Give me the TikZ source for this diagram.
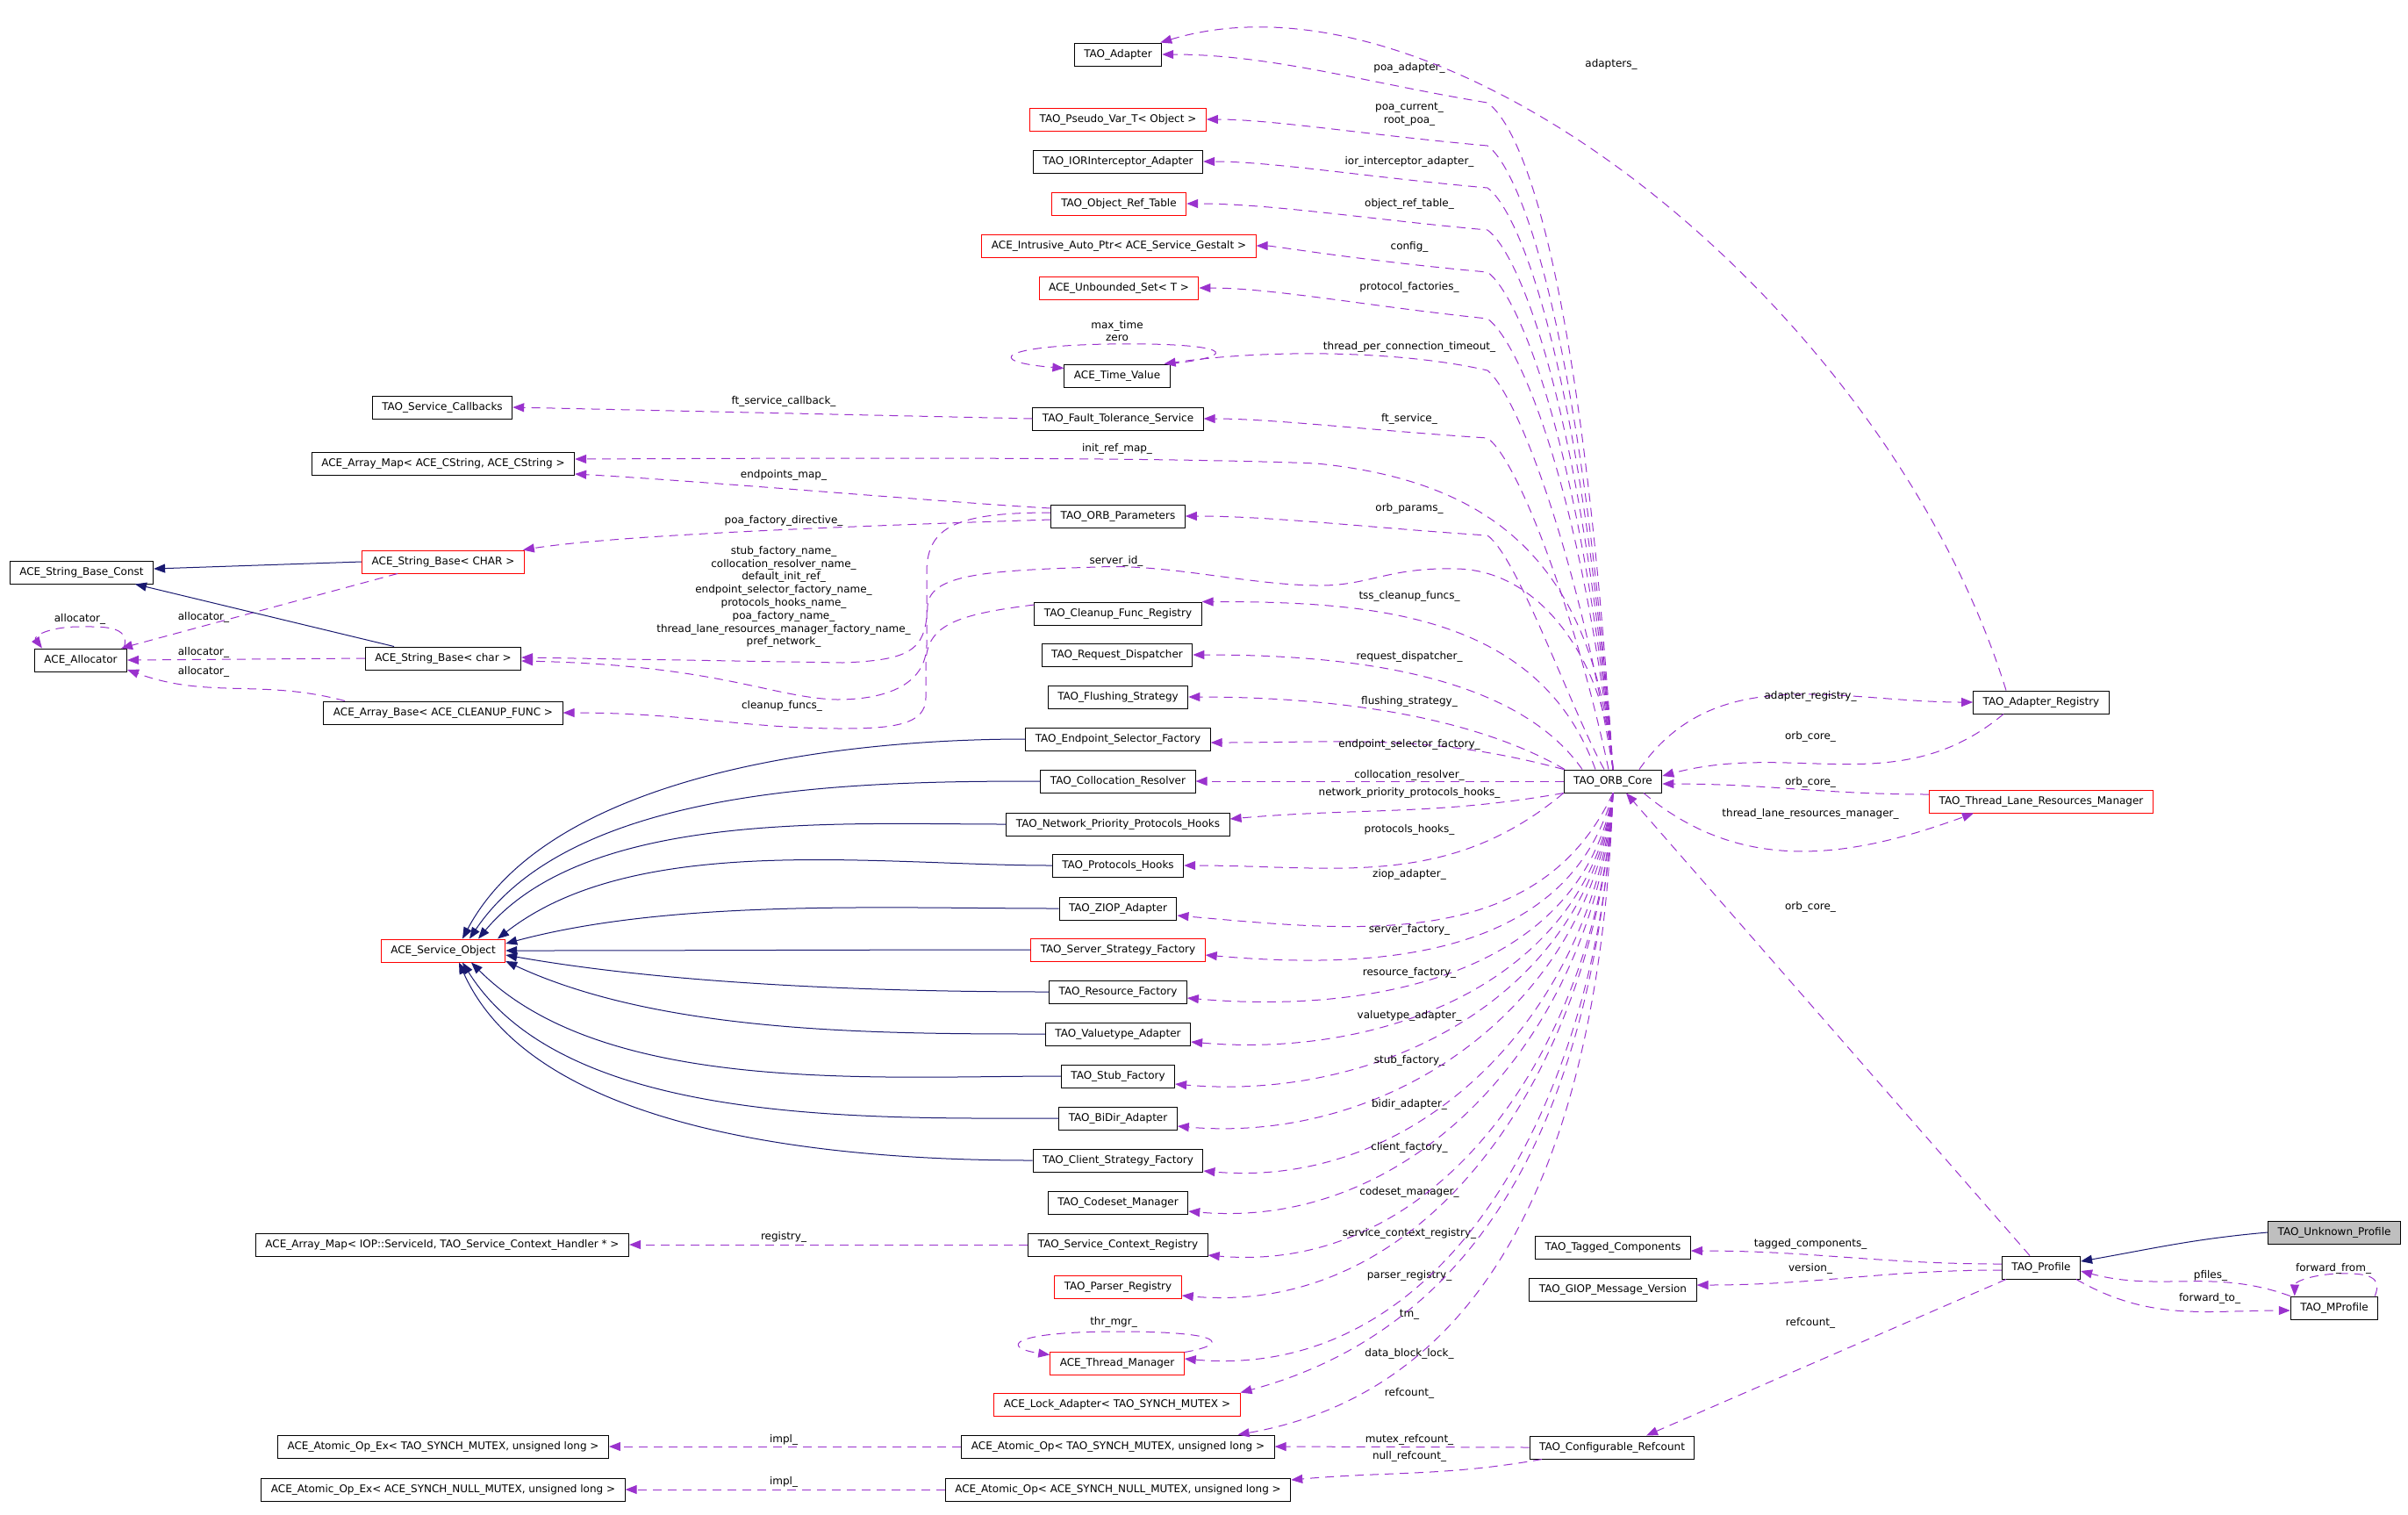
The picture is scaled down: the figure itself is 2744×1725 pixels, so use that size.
\documentclass[tikz,border=0pt]{standalone}
\usepackage{fontspec}
\setmainfont{DejaVu Sans}
\usetikzlibrary{arrows.meta}

\definecolor{usecol}{HTML}{9A32CD}
\definecolor{isacol}{HTML}{191970}
\definecolor{focuscol}{HTML}{BFBFBF}

\tikzset{
  cls/.style={draw=black, line width=1pt, fill=white, inner xsep=11pt, inner ysep=0pt,
    minimum height=26pt, font=\fontsize{12}{14}\selectfont},
  tmpl/.style={cls, draw=red},
  focus/.style={cls, fill=focuscol},
  use/.style={draw=usecol, line width=1pt, dash pattern=on 10pt off 7pt,
    -{Triangle[length=13pt,width=10pt]}},
  isa/.style={draw=isacol, line width=1pt, -{Triangle[length=13pt,width=10pt]}},
  lbl/.style={font=\fontsize{12}{14.8}\selectfont, align=center, inner sep=0pt},
}

\begin{document}
\begin{tikzpicture}[x=1pt,y=1pt]
\useasboundingbox (0,0) rectangle (2744,-1725);

% member classes
\node[cls] (adapter) at (1274,-62) {TAO\_Adapter};
\node[tmpl] (pseudovar) at (1274,-136) {TAO\_Pseudo\_Var\_T< Object >};
\node[cls] (iorinterceptor) at (1274,-184) {TAO\_IORInterceptor\_Adapter};
\node[tmpl] (objreftable) at (1275,-232) {TAO\_Object\_Ref\_Table};
\node[tmpl] (gestaltptr) at (1275,-280) {ACE\_Intrusive\_Auto\_Ptr< ACE\_Service\_Gestalt >};
\node[tmpl] (unboundedset) at (1275,-328) {ACE\_Unbounded\_Set< T >};
\node[cls] (timevalue) at (1273,-428) {ACE\_Time\_Value};
\node[cls] (ftservice) at (1274,-477) {TAO\_Fault\_Tolerance\_Service};
\node[cls] (svccallbacks) at (504,-464) {TAO\_Service\_Callbacks};
\node[cls] (cstringmap) at (505,-528) {ACE\_Array\_Map< ACE\_CString, ACE\_CString >};
\node[cls] (orbparams) at (1274,-588) {TAO\_ORB\_Parameters};
\node[cls] (strbaseconst) at (93,-652) {ACE\_String\_Base\_Const};
\node[tmpl] (strbaseCHAR) at (505,-640) {ACE\_String\_Base< CHAR >};
\node[cls] (allocator) at (92,-752) {ACE\_Allocator};
\node[cls] (strbasechar) at (505,-750) {ACE\_String\_Base< char >};
\node[cls] (cleanuparray) at (505,-812) {ACE\_Array\_Base< ACE\_CLEANUP\_FUNC >};
\node[cls] (cleanupreg) at (1274,-699) {TAO\_Cleanup\_Func\_Registry};
\node[cls] (reqdispatcher) at (1273,-746) {TAO\_Request\_Dispatcher};
\node[cls] (flushing) at (1274,-794) {TAO\_Flushing\_Strategy};
\node[cls] (endpointsel) at (1274,-842) {TAO\_Endpoint\_Selector\_Factory};
\node[cls] (collocation) at (1274,-890) {TAO\_Collocation\_Resolver};
\node[cls] (netprio) at (1274,-939) {TAO\_Network\_Priority\_Protocols\_Hooks};
\node[cls] (protohooks) at (1274,-986) {TAO\_Protocols\_Hooks};
\node[cls] (ziop) at (1274,-1035) {TAO\_ZIOP\_Adapter};
\node[tmpl] (serverstrat) at (1274,-1082) {TAO\_Server\_Strategy\_Factory};
\node[tmpl] (serviceobj) at (505,-1083) {ACE\_Service\_Object};
\node[cls] (resourcefact) at (1274,-1130) {TAO\_Resource\_Factory};
\node[cls] (valuetype) at (1274,-1178) {TAO\_Valuetype\_Adapter};
\node[cls] (stubfact) at (1274,-1226) {TAO\_Stub\_Factory};
\node[cls] (bidir) at (1274,-1274) {TAO\_BiDir\_Adapter};
\node[cls] (clientstrat) at (1274,-1322) {TAO\_Client\_Strategy\_Factory};
\node[cls] (codeset) at (1274,-1370) {TAO\_Codeset\_Manager};
\node[cls] (svcctxreg) at (1274,-1418) {TAO\_Service\_Context\_Registry};
\node[cls] (iopmap) at (504,-1418) {ACE\_Array\_Map< IOP::ServiceId, TAO\_Service\_Context\_Handler * >};
\node[tmpl] (parserreg) at (1274,-1466) {TAO\_Parser\_Registry};
\node[tmpl] (threadmgr) at (1273,-1553) {ACE\_Thread\_Manager};
\node[tmpl] (lockadapter) at (1273,-1600) {ACE\_Lock\_Adapter< TAO\_SYNCH\_MUTEX >};
\node[cls] (atomicop) at (1274,-1648) {ACE\_Atomic\_Op< TAO\_SYNCH\_MUTEX, unsigned long >};
\node[cls] (atomicopex) at (505,-1648) {ACE\_Atomic\_Op\_Ex< TAO\_SYNCH\_MUTEX, unsigned long >};
\node[cls] (nullatomicop) at (1274,-1697) {ACE\_Atomic\_Op< ACE\_SYNCH\_NULL\_MUTEX, unsigned long >};
\node[cls] (nullatomicopex) at (505,-1697) {ACE\_Atomic\_Op\_Ex< ACE\_SYNCH\_NULL\_MUTEX, unsigned long >};

% core and profiles
\node[cls] (orbcore) at (1838,-890) {TAO\_ORB\_Core};
\node[cls] (adapterreg) at (2326,-800) {TAO\_Adapter\_Registry};
\node[tmpl] (tlrm) at (2326,-913) {TAO\_Thread\_Lane\_Resources\_Manager};
\node[cls] (tagged) at (1838,-1421) {TAO\_Tagged\_Components};
\node[cls] (giop) at (1838,-1469) {TAO\_GIOP\_Message\_Version};
\node[cls] (confrefcount) at (1837,-1649) {TAO\_Configurable\_Refcount};
\node[cls] (profile) at (2326,-1444) {TAO\_Profile};
\node[focus] (unknownprofile) at (2660,-1404) {TAO\_Unknown\_Profile};
\node[cls] (mprofile) at (2660,-1490) {TAO\_MProfile};

% upper fan of the core
\foreach \t/\lab/\ly/\ty/\sx/\cd in {
  adapter/{poa\_adapter\_}/77/62/0/55,
  pseudovar/{poa\_current\_\\root\_poa\_}/130/136/0/30,
  iorinterceptor/{ior\_interceptor\_adapter\_}/184/184/0/30,
  objreftable/{object\_ref\_table\_}/232/232/0/30,
  gestaltptr/{config\_}/281/280/0/30,
  unboundedset/{protocol\_factories\_}/327/328/0/35,
  ftservice/{ft\_service\_}/477/477/-5/22,
  orbparams/{orb\_params\_}/579/588/-10/22}{
  \draw[use] ([xshift=\sx pt]orbcore.north) .. controls ({1800+\sx},{-\ty-220}) and (1730,{-\ty-\cd-25})
    .. (1695,{-\ty-\cd}) .. controls (1560,{-\ty-0.6*\cd}) and (1450,-\ty) .. (\t.east);
  \node[lbl] (lab-\t) at (1606,-\ly) {\lab};
}
\draw[use] (orbcore.north) .. controls (1800,-640) and (1730,-450) .. (1695,-422)
  .. controls (1600,-400) and (1450,-397) .. ([xshift=-7pt]timevalue.north east);
\node[lbl] (lab-timevalue) at (1606,-395) {thread\_per\_connection\_timeout\_};
\draw[use] ([xshift=-20pt]orbcore.north) to[out=110,in=0] (cleanupreg.north east);
\node[lbl] (lab-cleanupreg) at (1606,-679) {tss\_cleanup\_funcs\_};
\draw[use] ([xshift=-35pt]orbcore.north) to[out=125,in=0,looseness=0.8] (reqdispatcher.east);
\node[lbl] (lab-reqdispatcher) at (1606,-748) {request\_dispatcher\_};
\draw[use] ([xshift=-55pt]orbcore.north) to[out=150,in=0,looseness=0.8] (flushing.east);
\node[lbl] (lab-flushing) at (1606,-799) {flushing\_strategy\_};
\draw[use] (orbcore.north west) to[out=165,in=0] ([yshift=-4pt]endpointsel.east);
\node[lbl] (lab-endpointsel) at (1606,-848) {endpoint\_selector\_factory\_};
\draw[use] (orbcore.west) -- (collocation.east);
\node[lbl] (lab-collocation) at (1606,-883) {collocation\_resolver\_};
\draw[use] (orbcore.south west) to[out=190,in=5] ([yshift=6pt]netprio.east);
\node[lbl] (lab-netprio) at (1606,-903) {network\_priority\_protocols\_hooks\_};
\draw[use] (orbcore.north) .. controls (1815,-640) and (1700,-548) .. (1500,-528)
  .. controls (1300,-520) and (900,-522) .. ([yshift=5pt]cstringmap.east);
\node[lbl] (lab-cstringmap) at (1273,-511) {init\_ref\_map\_};
\draw[use] (orbcore.north) .. controls (1830,-760) and (1760,-650) .. (1660,-648)
  .. controls (1580,-646) and (1560,-668) .. (1500,-667)
  .. controls (1420,-666) and (1330,-642) .. (1250,-646)
  .. controls (1120,-650) and (1060,-655) .. (1057,-690)
  .. controls (1055,-740) and (1040,-752) .. (960,-755) -- ([yshift=1pt]strbasechar.east);
\node[lbl] (lab-serverid) at (1272,-639) {server\_id\_};

% lower fan of the core
\foreach \t/\lab/\ly/\o/\dy in {
  ziop/{ziop\_adapter\_}/996/-115/-8,
  serverstrat/{server\_factory\_}/1059/-105/-6,
  resourcefact/{resource\_factory\_}/1108/-100/-7,
  valuetype/{valuetype\_adapter\_}/1157/-98/-9,
  stubfact/{stub\_factory\_}/1208/-97/-9,
  bidir/{bidir\_adapter\_}/1258/-96/-9,
  clientstrat/{client\_factory\_}/1307/-95/-12,
  codeset/{codeset\_manager\_}/1358/-94/-10,
  svcctxreg/{service\_context\_registry\_}/1405/-93/-12,
  parserreg/{parser\_registry\_}/1453/-93/-10,
  threadmgr/{tm\_}/1498/-92/5}{
  \draw[use] (orbcore.south) to[out=\o,in=-5] ([yshift=\dy pt]\t.east);
  \node[lbl] (lab-\t) at (1606,-\ly) {\lab};
}
\draw[use] (orbcore.south west) to[out=-140,in=0] (protohooks.east);
\node[lbl] (lab-protohooks) at (1606,-945) {protocols\_hooks\_};
\draw[use] (orbcore.south) to[out=-93,in=15] (lockadapter.north east);
\node[lbl] (lab-lockadapter) at (1606,-1542) {data\_block\_lock\_};
\draw[use] (orbcore.south) to[out=-92,in=10] ([xshift=-42pt]atomicop.north east);
\node[lbl] (lab-atomicop) at (1606,-1587) {refcount\_};

% right side
\draw[use] ([xshift=-40pt]adapterreg.north) .. controls (2150,-350) and (1650,50) .. ([xshift=-2pt]adapter.north east);
\node[lbl] (lab-adapters) at (1836,-73) {adapters\_};
\draw[use] ([xshift=30pt]orbcore.north) to[out=55,in=180] (adapterreg.west);
\node[lbl] (lab-adapterreg) at (2063,-793) {adapter\_registry\_};
\draw[use] ([xshift=-43pt]adapterreg.south) to[out=-140,in=15] ([yshift=6pt]orbcore.east);
\node[lbl] (lab-regcore) at (2063,-839) {orb\_core\_};
\draw[use] ([yshift=8pt]tlrm.west) to[out=180,in=0] ([yshift=-3pt]orbcore.east);
\node[lbl] (lab-tlrmcore) at (2063,-891) {orb\_core\_};
\draw[use] ([xshift=35pt]orbcore.south) to[out=-40,in=-160] ([xshift=-77pt]tlrm.south);
\node[lbl] (lab-tlrm) at (2063,-927) {thread\_lane\_resources\_manager\_};
\draw[use] ([xshift=-13pt]profile.north) -- ([xshift=15pt]orbcore.south);
\node[lbl] (lab-profilecore) at (2063,-1033) {orb\_core\_};

% profiles
\draw[use] ([yshift=4pt]profile.west) to[out=180,in=0] ([yshift=-4pt]tagged.east);
\node[lbl] (lab-tagged) at (2063,-1417) {tagged\_components\_};
\draw[use] ([yshift=-3pt]profile.west) to[out=180,in=0] ([yshift=5pt]giop.east);
\node[lbl] (lab-giop) at (2063,-1445) {version\_};
\draw[use] ([xshift=-40pt]profile.south) -- ([xshift=39pt]confrefcount.north);
\node[lbl] (lab-refcount) at (2063,-1507) {refcount\_};
\draw[isa] (unknownprofile.west) to[out=185,in=10] ([yshift=7pt]profile.east);
\draw[use] (mprofile.north west) to[out=160,in=-15] ([yshift=-4pt]profile.east);
\node[lbl] (lab-pfiles) at (2519,-1453) {pfiles\_};
\draw[use] ([xshift=40pt]profile.south) to[out=-30,in=180] ([yshift=-3pt]mprofile.west);
\node[lbl] (lab-forwardto) at (2518,-1479) {forward\_to\_};
\draw[use] ([xshift=-4pt]mprofile.north east) .. controls (2715,-1455) and (2700,-1450) .. (2665,-1451)
  .. controls (2635,-1452) and (2615,-1460) .. ([xshift=5pt]mprofile.north west);
\node[lbl] (lab-forwardfrom) at (2659,-1445) {forward\_from\_};

% refcounts
\draw[use] (confrefcount.west) -- (atomicop.east);
\node[lbl] (lab-mutexrc) at (1606,-1640) {mutex\_refcount\_};
\draw[use] ([xshift=-80pt]confrefcount.south) to[out=-170,in=5] ([yshift=11pt]nullatomicop.east);
\node[lbl] (lab-nullrc) at (1606,-1659) {null\_refcount\_};
\draw[use] (atomicop.west) -- (atomicopex.east);
\node[lbl] (lab-impl) at (893,-1640) {impl\_};
\draw[use] (nullatomicop.west) -- (nullatomicopex.east);
\node[lbl] (lab-nullimpl) at (893,-1688) {impl\_};
\draw[use] (svcctxreg.west) -- (iopmap.east);
\node[lbl] (lab-registry) at (893,-1409) {registry\_};

% self loops
\draw[use] (timevalue.north east) .. controls (1420,-405) and (1400,-390) .. (1263,-392)
  .. controls (1140,-394) and (1120,-412) .. ([yshift=-5pt]timevalue.north west);
\node[lbl] (lab-maxtime) at (1273,-377) {max\_time\\zero};
\draw[use] ([yshift=-1pt]threadmgr.north east) .. controls (1400,-1532) and (1400,-1517) .. (1274,-1517)
  .. controls (1150,-1517) and (1140,-1535) .. ([yshift=-4pt]threadmgr.north west);
\node[lbl] (lab-thrmgr) at (1269,-1506) {thr\_mgr\_};
\draw[use] ([xshift=-4pt]allocator.north east) .. controls (150,-712) and (115,-714) .. (91,-714)
  .. controls (55,-714) and (38,-725) .. ([xshift=9pt]allocator.north west);
\node[lbl] (lab-alloc) at (91,-705) {allocator\_};

% parameters and strings
\draw[use] (ftservice.west) -- (svccallbacks.east);
\node[lbl] (lab-ftcb) at (893,-457) {ft\_service\_callback\_};
\draw[use] ([yshift=9pt]orbparams.west) .. controls (1100,-574) and (800,-548) .. ([yshift=-12pt]cstringmap.east);
\node[lbl] (lab-endpoints) at (893,-541) {endpoints\_map\_};
\draw[use] ([yshift=-4pt]orbparams.west) .. controls (950,-600) and (700,-610) .. ([xshift=-2pt]strbaseCHAR.north east);
\node[lbl] (lab-poadir) at (893,-593) {poa\_factory\_directive\_};
\draw[use] ([yshift=4pt]orbparams.west) .. controls (1090,-584) and (1057,-600) .. (1056,-650) -- (1056,-735)
  .. controls (1055,-780) and (1010,-797) .. (954,-797)
  .. controls (880,-795) and (820,-758) .. ([yshift=-3pt]strbasechar.east);
\node[lbl] (lab-names) at (893,-680) {stub\_factory\_name\_\\collocation\_resolver\_name\_\\default\_init\_ref\_\\endpoint\_selector\_factory\_name\_\\protocols\_hooks\_name\_\\poa\_factory\_name\_\\thread\_lane\_resources\_manager\_factory\_name\_\\pref\_network\_};
\draw[use] ([yshift=10pt]cleanupreg.west) .. controls (1090,-700) and (1056,-712) .. (1055,-755) -- (1055,-795)
  .. controls (1055,-825) and (1020,-830) .. (960,-830)
  .. controls (850,-830) and (780,-812) .. (cleanuparray.east);
\node[lbl] (lab-cleanup) at (891,-804) {cleanup\_funcs\_};
\draw[use] ([xshift=-52pt]strbaseCHAR.south) -- ([xshift=-7pt]allocator.north east);
\node[lbl] (lab-allocCHAR) at (232,-703) {allocator\_};
\draw[use] (strbasechar.west) -- (allocator.east);
\node[lbl] (lab-allocchar) at (232,-743) {allocator\_};
\draw[use] ([xshift=-112pt]cleanuparray.north) to[out=165,in=-20] ([yshift=-11pt]allocator.east);
\node[lbl] (lab-allocarray) at (232,-765) {allocator\_};

% inheritance
\draw[isa] (strbaseCHAR.west) -- ([yshift=4pt]strbaseconst.east);
\draw[isa] ([xshift=-56pt]strbasechar.north) -- ([xshift=61pt]strbaseconst.south);
\foreach \t/\dx/\dy/\anc/\i in {
  endpointsel/22/0/north/62,
  collocation/30/0/north/56,
  netprio/40/0/north/50,
  protohooks/62/0/north/38,
  ziop/0/8/east/15,
  serverstrat/0/0/east/0,
  resourcefact/0/-5/east/-10,
  valuetype/0/-12/east/-25,
  stubfact/32/0/south/-45,
  bidir/22/0/south/-58,
  clientstrat/18/0/south/-66}{
  \draw[isa] (\t.west) to[out=180,in=\i,looseness=0.8] ([xshift=\dx pt,yshift=\dy pt]serviceobj.\anc);
}
\end{tikzpicture}
\end{document}
